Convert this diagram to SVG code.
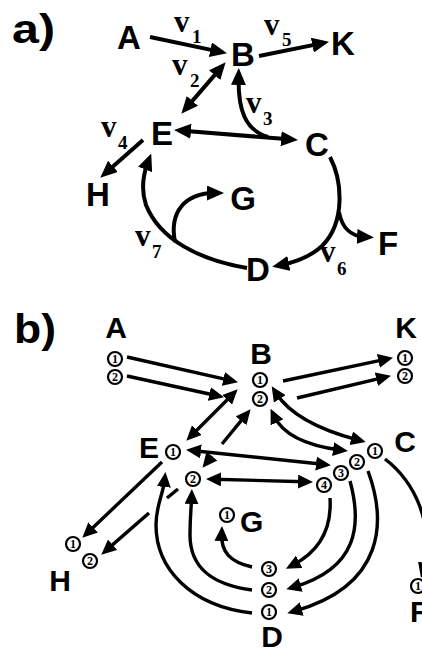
<svg xmlns="http://www.w3.org/2000/svg" width="422" height="652" viewBox="0 0 422 652">
<style>
.l{font-family:"Liberation Sans",Arial,sans-serif;font-weight:bold;fill:#000}
.la{font-size:33px;text-anchor:middle}
.lb{font-size:30px;text-anchor:middle}
.pl{font-size:40px}
.v{font-family:"Liberation Serif","Times New Roman",serif;font-weight:bold;font-size:31px;fill:#000}
.s{font-size:19px}
.a{fill:none;stroke:#000;stroke-width:4}
.b{fill:none;stroke:#000;stroke-width:3.4}
.c{fill:#fff;stroke:#000;stroke-width:2.2}
.n{font-family:"Liberation Serif","Times New Roman",serif;font-weight:bold;font-size:12px;text-anchor:middle;fill:#000}
</style>
<defs>
<marker id="ha" viewBox="0 0 17 15" refX="8" refY="7.5" markerWidth="17" markerHeight="15" markerUnits="userSpaceOnUse" orient="auto-start-reverse"><path d="M0,0 L17,7.5 L0,15 z"/></marker>
<marker id="hb" viewBox="0 0 15 14" refX="7" refY="7" markerWidth="15" markerHeight="14" markerUnits="userSpaceOnUse" orient="auto-start-reverse"><path d="M0,0 L15,7 L0,14 z"/></marker>
</defs>
<rect width="422" height="652" fill="#fff"/>

<!-- panel labels -->
<text class="l pl" x="12" y="43" textLength="43" lengthAdjust="spacingAndGlyphs">a)</text>
<text class="l pl" x="14" y="343" textLength="42" lengthAdjust="spacingAndGlyphs">b)</text>

<!-- ===== Part a connectors ===== -->
<g id="connectors-a">
<path class="a" d="M150,37 L218.2,51.4" marker-end="url(#ha)"/>
<path class="a" d="M259,56 L320.2,43.6" marker-end="url(#ha)"/>
<path class="a" d="M187.2,106.9 L219.8,69.1" marker-start="url(#ha)" marker-end="url(#ha)"/>
<path class="a" d="M183,130.7 L289,139.3" marker-start="url(#ha)" marker-end="url(#ha)"/>
<path class="a" d="M143,140 L107,171.7" marker-end="url(#ha)"/>
<path class="a" d="M268,137 C245,130 238,110 238.6,77" marker-end="url(#ha)"/>
<path class="a" d="M330,157 C342,180 346,222 322,246 C310,257 296,262 281,265" marker-end="url(#ha)"/>
<path class="a" d="M339,212 C342,228 350,236 365,237" marker-end="url(#ha)"/>
<path class="a" d="M247,268 C200,260 160,240 146,205 C141,190 143,175 148,162" marker-end="url(#ha)"/>
<path class="a" d="M175,242 C169,212 185,193 215,193" marker-end="url(#ha)"/>
</g>

<!-- ===== Part a nodes ===== -->
<g id="a-A"><text class="l la" x="129" y="49">A</text></g>
<g id="a-B"><text class="l la" x="243" y="66">B</text></g>
<g id="a-K"><text class="l la" x="343" y="55">K</text></g>
<g id="a-E"><text class="l la" x="162" y="145">E</text></g>
<g id="a-C"><text class="l la" x="317" y="156">C</text></g>
<g id="a-H"><text class="l la" x="98" y="206">H</text></g>
<g id="a-G"><text class="l la" x="243" y="210">G</text></g>
<g id="a-F"><text class="l la" x="388" y="255">F</text></g>
<g id="a-D"><text class="l la" x="258" y="281">D</text></g>

<!-- ===== Part a rate labels ===== -->
<g id="rates-a">
<text class="v" x="174" y="32">v<tspan class="s" x="192" y="43">1</tspan></text>
<text class="v" x="172" y="75">v<tspan class="s" x="190" y="87">2</tspan></text>
<text class="v" x="246" y="113">v<tspan class="s" x="263" y="125">3</tspan></text>
<text class="v" x="101" y="137">v<tspan class="s" x="118" y="149">4</tspan></text>
<text class="v" x="264" y="35">v<tspan class="s" x="282" y="46">5</tspan></text>
<text class="v" x="320" y="262">v<tspan class="s" x="337" y="275">6</tspan></text>
<text class="v" x="135" y="246">v<tspan class="s" x="152" y="258">7</tspan></text>
</g>

<!-- ===== Part b connectors ===== -->
<g id="connectors-b">
<path class="b" d="M127,357 L230.2,380.4" marker-end="url(#hb)"/>
<path class="b" d="M127,376 L216.2,395.5" marker-end="url(#hb)"/>
<path class="b" d="M283,381 L385.2,359.4" marker-end="url(#hb)"/>
<path class="b" d="M297,398 L383.2,377.6" marker-end="url(#hb)"/>
<path class="b" d="M192,435 L232,395" marker-start="url(#hb)" marker-end="url(#hb)"/>
<path class="b" d="M207.5,461.6 L212,456" marker-start="url(#hb)"/>
<path class="b" d="M222,444 L245.5,415.4" marker-end="url(#hb)"/>
<path class="b" d="M276,393 C290,415 320,430 358,440" marker-start="url(#hb)" marker-end="url(#hb)"/>
<path class="b" d="M274,416 C284,437 310,446 340,450" marker-start="url(#hb)" marker-end="url(#hb)"/>
<path class="b" d="M194,450.7 L323,464.3" marker-start="url(#hb)" marker-end="url(#hb)"/>
<path class="b" d="M214,479.2 L305,481.8" marker-start="url(#hb)" marker-end="url(#hb)"/>
<path class="b" d="M162,462 L88.1,532.2" marker-end="url(#hb)"/>
<path class="b" d="M178,489 L167,498"/>
<path class="b" d="M149,513 L107.3,549.4" marker-end="url(#hb)"/>
<path class="b" d="M330,498 C332,530 318,552 293,565" marker-end="url(#hb)"/>
<path class="b" d="M350,481 C362,525 358,568 294,587" marker-end="url(#hb)"/>
<path class="b" d="M368,471 C386,520 386,585 295,611" marker-end="url(#hb)"/>
<path class="b" d="M385,459 C415,482 435,525 423,570" marker-end="url(#hb)"/>
<path class="b" d="M252,613 C190,606 156,568 156,525 C156,505 163,495 164.6,480" marker-end="url(#hb)"/>
<path class="b" d="M252,590 C215,585 190,570 190,535 C190,515 191.5,505 191.7,497" marker-end="url(#hb)"/>
<path class="b" d="M252,567 C230,562 221,552 221.7,534" marker-end="url(#hb)"/>
</g>

<!-- ===== Part b nodes ===== -->
<g id="b-A"><text class="l lb" x="116" y="338">A</text>
<circle class="c" cx="115" cy="359" r="7"/><text class="n" x="115" y="363">1</text>
<circle class="c" cx="115" cy="377" r="7"/><text class="n" x="115" y="381">2</text></g>
<g id="b-B"><text class="l lb" x="261" y="364">B</text>
<circle class="c" cx="260" cy="380" r="7"/><text class="n" x="260" y="384">1</text>
<circle class="c" cx="260" cy="399" r="7"/><text class="n" x="260" y="403">2</text></g>
<g id="b-K"><text class="l lb" x="406" y="338">K</text>
<circle class="c" cx="405" cy="358" r="7"/><text class="n" x="405" y="362">1</text>
<circle class="c" cx="405" cy="376" r="7"/><text class="n" x="405" y="380">2</text></g>
<g id="b-E"><text class="l lb" x="149" y="458">E</text>
<circle class="c" cx="173" cy="452" r="7"/><text class="n" x="173" y="456">1</text>
<circle class="c" cx="193" cy="479" r="7"/><text class="n" x="193" y="483">2</text></g>
<g id="b-C"><text class="l lb" x="405" y="452">C</text>
<circle class="c" cx="375" cy="451" r="7"/><text class="n" x="375" y="455">1</text>
<circle class="c" cx="357" cy="462" r="7"/><text class="n" x="357" y="466">2</text>
<circle class="c" cx="341" cy="473" r="7"/><text class="n" x="341" y="477">3</text>
<circle class="c" cx="324" cy="485" r="7"/><text class="n" x="324" y="489">4</text></g>
<g id="b-G"><text class="l" style="font-size:30px" x="240" y="532">G</text>
<circle class="c" cx="227" cy="515" r="7"/><text class="n" x="227" y="519">1</text></g>
<g id="b-H"><text class="l lb" x="60" y="591">H</text>
<circle class="c" cx="73" cy="544" r="7"/><text class="n" x="73" y="548">1</text>
<circle class="c" cx="90" cy="561" r="7"/><text class="n" x="90" y="565">2</text></g>
<g id="b-D"><text class="l lb" x="272" y="647">D</text>
<circle class="c" cx="269" cy="569" r="7"/><text class="n" x="269" y="573">3</text>
<circle class="c" cx="269" cy="590" r="7"/><text class="n" x="269" y="594">2</text>
<circle class="c" cx="269" cy="612" r="7"/><text class="n" x="269" y="616">1</text></g>
<g id="b-F"><text class="l" style="font-size:30px" x="410" y="622">F</text>
<circle class="c" cx="418" cy="586" r="7"/><text class="n" x="418" y="590">1</text></g>
</svg>
